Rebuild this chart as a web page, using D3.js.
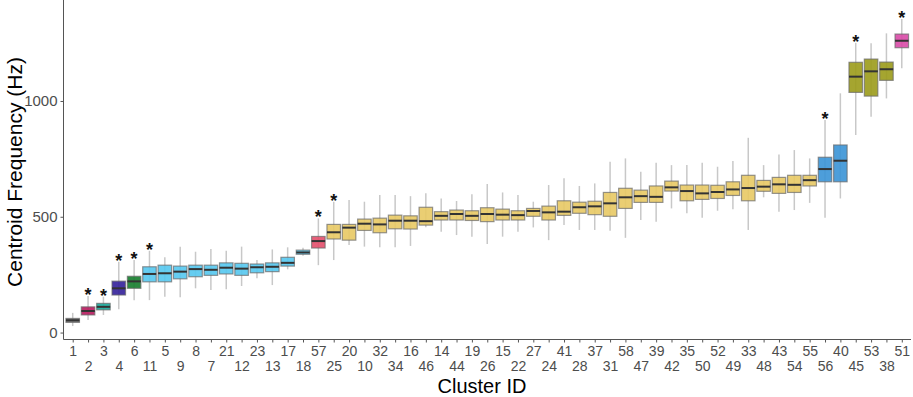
<!DOCTYPE html>
<html><head><meta charset="utf-8">
<script src="https://cdn.jsdelivr.net/npm/d3@7"></script>
<style>body{margin:0;background:#fff;} svg{display:block;}</style>
</head><body>
<svg id="c" width="913" height="397"></svg>
<script>
const ids = [1,2,3,4,6,11,5,9,8,7,21,12,23,13,17,18,57,25,20,10,32,34,16,46,14,44,19,26,15,22,27,24,41,28,37,31,58,47,39,42,35,50,52,49,33,48,43,54,55,56,40,45,53,38,51];
const lo  = [28,54,76,101,140,140,155,152,191,184,187,201,234,205,273,332,291,313,378,371,368,368,374,455,435,421,414,382,414,435,454,399,464,443,443,440,409,486,478,536,515,496,526,532,443,584,522,529,560,496,579,853,932,1011,1141];
const q1  = [44,76,98,162,191,219,219,232,241,247,253,247,258,263,287,338,365,404,399,441,431,448,447,464,486,486,484,479,486,486,502,486,506,515,509,502,536,562,562,611,569,575,579,592,569,610,601,605,633,651,651,1037,1021,1089,1230];
const med = [53,93,111,191,221,253,256,263,274,271,280,276,282,284,301,346,395,433,453,470,467,483,483,481,504,512,504,512,509,507,525,519,522,541,545,558,584,589,586,627,611,601,607,618,624,630,640,638,658,706,742,1105,1128,1137,1260];
const q3  = [61,111,126,222,243,284,291,287,291,291,301,299,296,301,325,356,415,467,467,490,494,507,504,541,522,529,526,539,533,526,536,546,569,563,567,605,623,615,633,654,637,637,636,651,679,657,670,679,679,757,810,1167,1181,1168,1289];
const hi  = [85,158,155,306,313,353,325,370,349,361,353,371,313,359,368,366,493,565,572,565,594,594,589,601,579,568,597,641,605,594,565,637,666,633,644,738,752,694,733,723,723,733,716,741,841,723,769,788,752,918,1033,1251,1249,1292,1354];
const groups = ["A","B","C","D","E","F","F","F","F","F","F","F","F","F","F","F","G",
  "H","H","H","H","H","H","H","H","H","H","H","H","H","H","H","H","H","H","H","H","H","H","H","H","H","H","H","H","H","H","H","H",
  "I","I","J","J","J","K"];
const starIds = [2,3,4,6,11,57,25,56,45,51];
const yTicks = [0,500,1000];
const groupNames = ["A","B","C","D","E","F","G","H","I","J","K"];
const palette = ["#6e6e6e","#b8195e","#17a99a","#33209a","#157d2c","#55c8f0","#e44f6c","#e8c964","#3a93d6","#9b9b1a","#d94aa7"];

const FONT = "Liberation Sans, Arial, sans-serif";
const svg = d3.select("#c");
const x = d3.scalePoint().domain(ids.map(String)).range([63.5, 911]).padding(0.6);
const y = d3.scaleLinear().domain([-30, 1436]).range([339.5, 0]);
const color = d3.scaleOrdinal().domain(groupNames).range(palette);
const bw = x.step() * 0.88;

const data = ids.map((id, i) => ({id: String(id), lo: lo[i], q1: q1[i], med: med[i], q3: q3[i], hi: hi[i], g: groups[i], star: starIds.includes(id)}));

const g = svg.append("g");
g.selectAll("line.w").data(data).join("line")
  .attr("x1", d => x(d.id)).attr("x2", d => x(d.id))
  .attr("y1", d => y(d.lo)).attr("y2", d => y(d.hi))
  .attr("stroke", "#c8c8c8").attr("stroke-width", 1.5);
g.selectAll("rect.b").data(data).join("rect")
  .attr("x", d => x(d.id) - bw/2).attr("width", bw)
  .attr("y", d => y(d.q3)).attr("height", d => y(d.q1) - y(d.q3))
  .attr("fill", d => color(d.g)).attr("fill-opacity", 0.9)
  .attr("stroke", "#6a6a6a").attr("stroke-opacity", 0.7).attr("stroke-width", 1.2);
g.selectAll("line.m").data(data).join("line")
  .attr("x1", d => x(d.id) - bw/2).attr("x2", d => x(d.id) + bw/2)
  .attr("y1", d => y(d.med)).attr("y2", d => y(d.med))
  .attr("stroke", "#333").attr("stroke-width", 2);
g.selectAll("text.s").data(data.filter(d => d.star)).join("text")
  .attr("x", d => x(d.id)).attr("y", d => y(d.hi) + 5)
  .attr("text-anchor", "middle")
  .attr("font-family", FONT)
  .attr("font-size", 18).attr("font-weight", "bold").attr("fill", "#111")
  .text("*");

const ya = svg.append("g").attr("transform", "translate(63.5,0)")
  .call(d3.axisLeft(y).tickValues(yTicks).tickSize(3).tickPadding(3).tickFormat(d3.format("d")));
ya.select(".domain").attr("d", "M0,0V339.5").attr("stroke", "#555");
ya.selectAll(".tick line").attr("stroke", "#555");
ya.selectAll(".tick text").attr("font-family", FONT).attr("font-size", 15).attr("fill", "#4d4d4d");

const xa = svg.append("g").attr("transform", "translate(0,339.5)")
  .call(d3.axisBottom(x).tickSize(3).tickPadding(3));
xa.select(".domain").attr("d", "M63.5,0H911").attr("stroke", "#555");
xa.selectAll(".tick line").attr("stroke", "#555");
xa.selectAll(".tick text")
  .attr("font-family", FONT).attr("font-size", 14).attr("fill", "#4d4d4d")
  .attr("dy", null)
  .attr("y", (d, i) => i % 2 === 0 ? 16.5 : 31);

svg.append("text").attr("x", 482).attr("y", 392.5).attr("text-anchor", "middle")
  .attr("font-family", FONT).attr("font-size", 20).attr("fill", "#000")
  .text("Cluster ID");
svg.append("text").attr("transform", "translate(22,172) rotate(-90)").attr("text-anchor", "middle")
  .attr("font-family", FONT).attr("font-size", 21).attr("fill", "#000")
  .text("Centroid Frequency (Hz)");
</script>
</body></html>
